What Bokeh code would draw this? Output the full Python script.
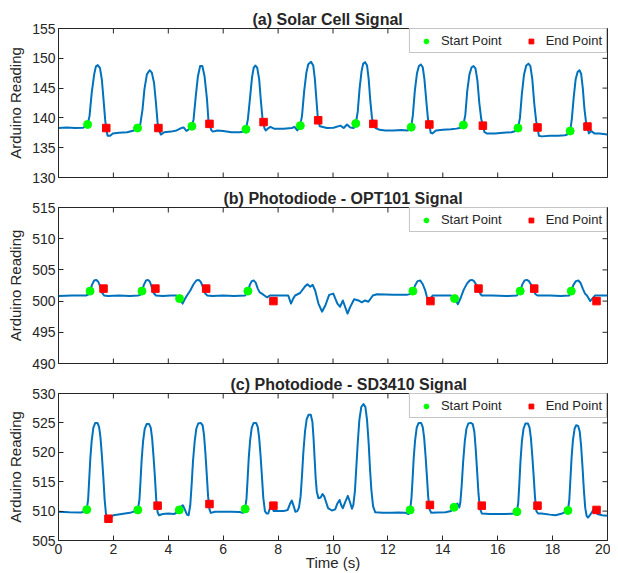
from bokeh.plotting import figure
from bokeh.models import FixedTicker, Range1d, Legend, LegendItem
from bokeh.layouts import column
from bokeh.embed import file_html
from bokeh.resources import INLINE

FONT = "Liberation Sans"
TXT = "#262626"
LINE = "#0072BD"

x_ticks = [0, 2, 4, 6, 8, 10, 12, 14, 16, 18, 20]

# ---------------- (a) Solar cell ----------------
a_title = "(a) Solar Cell Signal"
a_yticks = [130, 135, 140, 145, 150, 155]
a_signal = [
    (0.0, 138.3), (0.3, 138.4), (0.6, 138.3), (0.9, 138.35), (1.0, 138.6),
    (1.06, 138.9), (1.13, 140.3), (1.21, 144.2), (1.30, 147.3), (1.36, 148.6), (1.43, 148.85),
    (1.51, 148.4), (1.58, 146.4), (1.64, 143.1), (1.70, 139.7), (1.74, 138.05), (1.79, 137.0),
    (1.88, 137.0), (1.98, 137.4), (2.2, 137.5), (2.5, 137.6), (2.75, 137.9), (2.88, 138.3),
    (2.98, 138.9), (3.06, 141.4), (3.13, 144.8), (3.22, 147.3), (3.32, 148.0), (3.40, 147.6),
    (3.48, 145.9), (3.55, 142.5), (3.61, 139.2), (3.66, 138.0), (3.73, 137.2), (3.85, 137.6),
    (4.1, 137.7), (4.3, 137.9), (4.47, 138.3), (4.56, 138.4), (4.66, 137.8), (4.78, 138.2), (4.85, 138.55),
    (4.92, 139.7), (5.00, 143.6), (5.08, 147.0), (5.16, 148.7), (5.24, 148.7), (5.32, 147.0),
    (5.41, 143.1), (5.46, 139.7), (5.50, 139.0), (5.56, 138.0), (5.62, 137.7), (5.8, 137.9),
    (6.0, 137.8), (6.3, 137.6), (6.6, 137.6), (6.75, 137.7), (6.83, 138.1),
    (6.90, 139.8), (6.98, 143.5), (7.05, 146.8), (7.11, 148.4), (7.17, 148.8), (7.24, 148.4),
    (7.31, 146.5), (7.37, 143.0), (7.43, 140.0), (7.47, 139.3), (7.50, 138.3), (7.55, 137.9),
    (7.65, 138.3), (7.72, 138.5), (7.85, 138.2), (8.2, 138.2), (8.5, 138.3), (8.6, 138.5),
    (8.7, 137.9), (8.80, 138.7),
    (8.87, 140.3), (8.95, 144.5), (9.03, 147.6), (9.10, 149.0), (9.20, 149.4), (9.28, 148.8),
    (9.34, 146.5), (9.40, 142.8), (9.44, 140.4), (9.47, 139.4), (9.52, 138.6), (9.78, 138.3),
    (10.02, 138.35), (10.27, 138.7), (10.39, 138.3), (10.51, 138.9), (10.63, 138.4), (10.75, 138.3),
    (10.83, 139.06),
    (10.90, 141.0), (10.97, 145.0), (11.04, 147.8), (11.10, 149.1), (11.17, 149.35), (11.24, 148.8),
    (11.30, 146.5), (11.36, 142.8), (11.42, 140.0), (11.47, 139.0), (11.55, 138.3), (11.7, 138.0),
    (11.9, 137.9), (12.2, 137.9), (12.5, 137.95), (12.7, 137.9), (12.8, 138.0), (12.85, 138.45),
    (12.91, 140.5), (12.98, 144.5), (13.06, 147.5), (13.13, 148.7), (13.20, 148.96), (13.27, 148.5),
    (13.33, 146.5), (13.40, 142.8), (13.46, 139.8), (13.51, 138.9), (13.56, 137.5), (13.62, 137.4),
    (13.75, 137.9), (14.0, 138.0), (14.3, 138.1), (14.5, 138.2), (14.68, 138.4), (14.75, 138.8),
    (14.82, 140.5), (14.89, 144.5), (14.97, 147.3), (15.05, 148.5), (15.12, 148.7), (15.19, 148.3),
    (15.26, 146.3), (15.33, 142.5), (15.40, 139.8), (15.46, 138.7), (15.52, 137.6), (15.6, 137.4),
    (15.9, 137.4), (16.2, 137.5), (16.5, 137.6), (16.65, 137.8), (16.74, 138.3),
    (16.81, 140.0), (16.88, 144.0), (16.96, 147.3), (17.04, 148.8), (17.12, 149.1), (17.19, 148.7),
    (17.26, 146.5), (17.33, 142.5), (17.40, 139.5), (17.45, 138.4), (17.50, 137.0), (17.6, 136.9),
    (17.9, 137.0), (18.2, 137.0), (18.45, 137.1), (18.58, 137.3), (18.64, 137.8),
    (18.70, 139.8), (18.77, 143.5), (18.84, 146.5), (18.91, 147.7), (18.98, 148.0), (19.04, 147.4),
    (19.10, 145.0), (19.16, 141.5), (19.22, 139.2), (19.27, 138.55), (19.32, 137.4), (19.41, 137.8),
    (19.52, 137.4), (19.7, 137.4), (19.85, 137.3), (20.0, 137.2),
]
a_start_t = [1.06, 2.88, 4.86, 6.83, 8.81, 10.83, 12.85, 14.75, 16.74, 18.64]
a_start_v = [138.9, 138.3, 138.6, 138.1, 138.7, 139.06, 138.45, 138.8, 138.3, 137.8]
a_end_t = [1.74, 3.64, 5.50, 7.47, 9.46, 11.47, 13.51, 15.46, 17.45, 19.27]
a_end_v = [138.3, 138.3, 139.0, 139.3, 139.6, 139.0, 138.9, 138.7, 138.4, 138.55]

# ---------------- (b) OPT101 ----------------
b_title = "(b) Photodiode - OPT101 Signal"
b_yticks = [490, 495, 500, 505, 510, 515]
b_signal = [
    (0.0, 500.8), (0.5, 500.9), (1.0, 500.9), (1.1, 501.1), (1.15, 501.6), (1.22, 502.6),
    (1.30, 503.3), (1.37, 503.4), (1.45, 503.1), (1.52, 502.3), (1.58, 501.4), (1.66, 500.9),
    (1.8, 500.8), (2.2, 500.9), (2.6, 500.8), (2.9, 500.9), (2.98, 501.0), (3.04, 501.6),
    (3.11, 502.6), (3.19, 503.3), (3.26, 503.4), (3.33, 503.1), (3.40, 502.2), (3.47, 501.3),
    (3.55, 500.9), (3.8, 500.8), (4.1, 500.9), (4.3, 500.9), (4.41, 500.4), (4.52, 499.6),
    (4.60, 500.3), (4.68, 500.9), (4.80, 501.7), (4.92, 502.7), (5.02, 503.3), (5.10, 503.4),
    (5.18, 503.1), (5.27, 502.2), (5.35, 501.2), (5.42, 500.9), (5.6, 500.8), (6.0, 500.9),
    (6.4, 500.8), (6.8, 500.9), (6.90, 501.5), (6.97, 502.6), (7.04, 503.2), (7.11, 503.3),
    (7.18, 503.0), (7.26, 502.0), (7.33, 501.4), (7.41, 501.2), (7.50, 500.9), (7.6, 500.6),
    (7.7, 500.9), (8.06, 500.9), (8.37, 500.9), (8.47, 499.6), (8.55, 500.4), (8.62, 500.9),
    (8.80, 501.3), (8.99, 502.4), (9.07, 502.7), (9.17, 502.3), (9.26, 502.6), (9.35, 501.7),
    (9.47, 499.6), (9.60, 498.3), (9.72, 499.3), (9.86, 501.0), (10.01, 501.2), (10.16, 499.6),
    (10.26, 499.1), (10.36, 500.1), (10.44, 499.1), (10.53, 498.0), (10.62, 499.0), (10.77, 500.3),
    (10.93, 500.1), (11.05, 499.8), (11.17, 500.1), (11.29, 499.9), (11.45, 500.9), (11.60, 501.1),
    (12.2, 501.0), (12.69, 501.0), (12.85, 501.2), (12.91, 501.5), (12.99, 502.5), (13.08, 503.2),
    (13.18, 503.3), (13.27, 502.7), (13.36, 501.7), (13.42, 500.7), (13.48, 499.9), (13.56, 500.5),
    (13.64, 500.9), (14.0, 500.9), (14.3, 500.9), (14.43, 500.4), (14.55, 499.5), (14.65, 500.5),
    (14.76, 501.8), (14.88, 502.8), (14.98, 503.3), (15.06, 503.4), (15.14, 503.2), (15.22, 502.6),
    (15.30, 501.8), (15.38, 501.1), (15.42, 500.9), (15.8, 500.9), (16.3, 500.8), (16.7, 500.9),
    (16.82, 501.6), (16.90, 502.7), (16.98, 503.3), (17.06, 503.4), (17.14, 503.2), (17.22, 502.6),
    (17.30, 501.8), (17.38, 501.1), (17.45, 500.9), (17.9, 500.9), (18.3, 500.8), (18.6, 500.9),
    (18.68, 501.6), (18.76, 502.6), (18.85, 503.2), (18.94, 503.3), (19.02, 502.9), (19.10, 502.0),
    (19.18, 501.2), (19.25, 500.9), (19.37, 500.0), (19.45, 500.4), (19.55, 500.9), (19.66, 500.9),
    (20.0, 500.9),
]
b_start_t = [1.15, 3.04, 4.41, 6.90, 12.91, 14.43, 16.82, 18.68]
b_start_v = [501.6, 501.6, 500.4, 501.6, 501.6, 500.4, 501.6, 501.6]
b_end_t = [1.64, 3.53, 5.38, 7.83, 13.55, 15.30, 17.33, 19.60]
b_end_v = [502.0, 502.0, 502.0, 500.0, 500.0, 502.0, 502.0, 500.0]

# ---------------- (c) SD3410 ----------------
c_title = "(c) Photodiode - SD3410 Signal"
c_yticks = [505, 510, 515, 520, 525, 530]
c_signal = [
    (0.0, 509.9), (0.4, 509.8), (0.8, 509.75), (0.98, 509.9), (1.03, 510.25), (1.08, 512.0),
    (1.12, 515.5), (1.16, 519.0), (1.21, 522.0), (1.27, 524.2), (1.34, 525.0), (1.42, 525.0),
    (1.48, 524.3), (1.53, 522.5), (1.58, 519.5), (1.63, 516.0), (1.68, 512.0), (1.73, 509.5),
    (1.78, 508.9), (1.85, 508.8), (2.0, 509.3), (2.3, 509.5), (2.6, 509.7), (2.8, 510.0),
    (2.89, 510.2), (2.95, 512.0), (2.99, 515.3), (3.03, 518.8), (3.08, 521.8), (3.14, 524.0),
    (3.21, 524.8), (3.30, 524.8), (3.36, 524.2), (3.41, 522.4), (3.46, 519.4), (3.51, 516.0),
    (3.56, 512.0), (3.61, 509.8), (3.66, 509.3), (3.8, 509.5), (4.0, 509.6), (4.2, 509.5),
    (4.35, 509.8), (4.40, 510.2), (4.47, 510.8), (4.53, 511.0), (4.60, 510.3), (4.68, 509.4),
    (4.74, 509.3), (4.80, 511.0), (4.85, 514.5), (4.90, 518.5), (4.96, 521.8), (5.02, 524.0),
    (5.09, 524.9), (5.18, 525.0), (5.25, 524.6), (5.30, 523.0), (5.35, 520.0), (5.40, 516.3),
    (5.45, 512.5), (5.50, 510.3), (5.55, 509.7), (5.7, 509.9), (6.0, 509.9), (6.3, 509.9),
    (6.6, 509.85), (6.72, 509.7), (6.80, 510.37), (6.85, 512.2), (6.89, 515.5), (6.93, 519.0),
    (6.98, 522.0), (7.04, 524.2), (7.11, 525.0), (7.20, 525.0), (7.26, 524.3), (7.31, 522.5),
    (7.36, 519.5), (7.41, 516.0), (7.46, 512.3), (7.52, 510.0), (7.58, 509.6), (7.64, 509.6),
    (7.71, 510.6), (7.77, 510.7), (7.84, 510.0), (7.95, 510.0), (8.2, 510.0), (8.35, 510.2),
    (8.43, 511.2), (8.50, 511.8), (8.57, 510.8), (8.63, 509.9), (8.70, 510.0), (8.76, 510.6),
    (8.82, 512.5), (8.87, 516.0), (8.92, 520.0), (8.98, 523.5), (9.04, 525.6), (9.11, 526.4),
    (9.19, 526.4), (9.25, 525.2), (9.29, 522.5), (9.33, 519.0), (9.37, 515.5), (9.41, 513.3),
    (9.47, 512.2), (9.55, 512.3), (9.62, 512.9), (9.68, 512.5), (9.75, 511.5), (9.82, 510.5),
    (9.96, 510.1), (10.08, 510.3), (10.16, 511.3), (10.24, 511.9), (10.30, 511.0), (10.36, 510.5),
    (10.44, 511.5), (10.54, 512.6), (10.62, 511.5), (10.69, 510.4), (10.74, 511.0), (10.80, 513.5),
    (10.85, 517.5), (10.90, 521.5), (10.96, 525.5), (11.03, 527.7), (11.11, 528.2), (11.18, 527.7),
    (11.24, 525.5), (11.30, 521.5), (11.35, 517.0), (11.40, 513.5), (11.46, 510.8), (11.54, 509.8),
    (11.8, 509.7), (12.1, 509.7), (12.4, 509.75), (12.65, 509.7), (12.75, 509.5), (12.81, 510.2),
    (12.86, 512.3), (12.90, 515.5), (12.94, 519.0), (12.99, 522.0), (13.05, 524.2), (13.12, 525.0),
    (13.21, 525.0), (13.27, 524.3), (13.32, 522.5), (13.37, 519.5), (13.42, 516.0), (13.47, 512.3),
    (13.52, 510.3), (13.58, 509.7), (13.8, 509.75), (14.1, 509.8), (14.3, 510.0), (14.41, 510.65),
    (14.53, 511.3), (14.60, 510.6), (14.64, 511.5), (14.69, 514.5), (14.74, 518.3), (14.80, 521.8),
    (14.86, 524.0), (14.93, 524.9), (15.02, 525.0), (15.09, 524.8), (15.15, 523.5), (15.20, 520.5),
    (15.25, 516.8), (15.30, 513.0), (15.35, 510.5), (15.42, 509.6), (15.7, 509.5), (16.0, 509.5),
    (16.3, 509.5), (16.6, 509.6), (16.70, 509.9), (16.75, 511.5), (16.79, 514.8), (16.83, 518.5),
    (16.88, 521.8), (16.94, 524.0), (17.01, 524.9), (17.10, 524.9), (17.16, 524.2), (17.21, 522.4),
    (17.26, 519.4), (17.31, 516.0), (17.36, 512.3), (17.41, 510.0), (17.47, 509.6), (17.6, 509.6),
    (17.9, 509.4), (18.1, 509.3), (18.35, 509.6), (18.50, 509.9), (18.56, 510.1), (18.61, 512.0),
    (18.65, 515.5), (18.69, 519.0), (18.74, 522.0), (18.80, 524.0), (18.86, 524.6), (18.93, 524.5),
    (18.99, 523.5), (19.04, 521.0), (19.09, 517.5), (19.14, 513.5), (19.19, 510.5), (19.24, 509.2),
    (19.29, 508.9), (19.36, 509.3), (19.43, 509.8), (19.50, 510.3), (19.56, 510.5), (19.63, 509.5),
    (19.8, 509.3), (20.0, 509.2),
]
c_start_t = [1.03, 2.89, 4.40, 6.80, 12.81, 14.41, 16.70, 18.56]
c_start_v = [510.25, 510.2, 510.2, 510.37, 510.2, 510.65, 509.9, 510.1]
c_end_t = [1.82, 3.61, 5.50, 7.83, 13.53, 15.42, 17.45, 19.60]
c_end_v = [508.7, 510.93, 511.2, 510.93, 511.05, 510.93, 510.93, 510.2]

FW = 549      # frame width in px
TICK = 5      # inward tick length in px


def style_axis(ax):
    ax.axis_line_color = TXT
    ax.axis_line_width = 1
    ax.major_tick_line_color = TXT
    ax.major_tick_in = TICK
    ax.major_tick_out = 0
    ax.minor_tick_line_color = None
    ax.major_label_text_font = FONT
    ax.major_label_text_color = TXT
    ax.major_label_text_font_size = "14px"
    ax.major_label_standoff = 3


def panel(title, title_off, pts, st, sv, et, ev, yticks, fh, bottom_labels, bt, bb):
    t = [q[0] for q in pts]
    v = [q[1] for q in pts]
    p = figure(frame_width=FW, frame_height=fh,
               x_range=Range1d(0, 20), y_range=Range1d(yticks[0], yticks[-1]),
               output_backend="svg", toolbar_location=None,
               min_border_left=58, min_border_right=3, min_border_top=bt,
               min_border_bottom=bb, title=title)
    p.extra_x_ranges = {"xpx": Range1d(0, FW)}
    p.extra_y_ranges = {"ypx": Range1d(0, fh)}
    p.background_fill_color = "white"
    p.border_fill_color = "white"
    p.grid.visible = False
    p.outline_line_color = TXT
    p.outline_line_width = 1
    p.outline_line_alpha = 1.0

    p.title.align = "left"
    p.title.offset = title_off
    p.title.text_font = FONT
    p.title.text_font_size = "16px"
    p.title.text_font_style = "bold"
    p.title.text_color = TXT
    p.title.standoff = 2

    # inward ticks on the top and right edges (and bottom where no labelled axis)
    n = len(x_ticks)
    p.segment(x0=x_ticks, y0=[fh] * n, x1=x_ticks, y1=[fh - TICK] * n,
              y_range_name="ypx", line_color=TXT, line_width=1)
    m = len(yticks)
    p.segment(x0=[FW] * m, y0=yticks, x1=[FW - TICK] * m, y1=yticks,
              x_range_name="xpx", line_color=TXT, line_width=1)
    if not bottom_labels:
        p.segment(x0=x_ticks, y0=[0] * n, x1=x_ticks, y1=[TICK] * n,
                  y_range_name="ypx", line_color=TXT, line_width=1)

    p.line(t, v, line_color=LINE, line_width=2, line_join="round")
    rs = p.scatter(st, sv, marker="circle", size=8, fill_color="#00FF00", line_color="#00FF00")
    re = p.scatter(et, ev, marker="square", size=7.5, fill_color="#FF0000", line_color="#FF0000")

    p.xaxis.ticker = FixedTicker(ticks=x_ticks)
    p.yaxis.ticker = FixedTicker(ticks=yticks)
    style_axis(p.yaxis[0])
    p.yaxis.axis_label = "Arduino Reading"
    p.yaxis.axis_label_text_font = FONT
    p.yaxis.axis_label_text_font_size = "15px"
    p.yaxis.axis_label_text_font_style = "normal"
    p.yaxis.axis_label_text_color = TXT
    p.yaxis.axis_label_standoff = 5
    if bottom_labels:
        style_axis(p.xaxis[0])
        p.xaxis.axis_label = "Time (s)"
        p.xaxis.axis_label_text_font = FONT
        p.xaxis.axis_label_text_font_size = "15px"
        p.xaxis.axis_label_text_font_style = "normal"
        p.xaxis.axis_label_text_color = TXT
        p.xaxis.axis_label_standoff = -3
    else:
        p.xaxis.visible = False

    legend = Legend(items=[LegendItem(label="Start Point", renderers=[rs]),
                           LegendItem(label="End Point", renderers=[re])],
                    orientation="horizontal", location="top_right", margin=0,
                    padding=4, spacing=17, glyph_width=24, glyph_height=12,
                    label_height=12, label_standoff=3,
                    label_text_font=FONT, label_text_font_size="13px",
                    label_text_color=TXT, border_line_color="#8c8c8c",
                    border_line_width=1, background_fill_color="white",
                    background_fill_alpha=1.0)
    p.add_layout(legend, "center")
    return p


pa = panel(a_title, 194, a_signal, a_start_t, a_start_v, a_end_t, a_end_v, a_yticks, 149, False, 28, 9)
pb = panel(b_title, 165, b_signal, b_start_t, b_start_v, b_end_t, b_end_v, b_yticks, 156, False, 21, 9)
pc = panel(c_title, 172, c_signal, c_start_t, c_start_v, c_end_t, c_end_v, c_yticks, 147, True, 21, 33)

layout = column(pa, pb, pc, spacing=0)
open("out.html", "w").write(file_html(layout, INLINE))
